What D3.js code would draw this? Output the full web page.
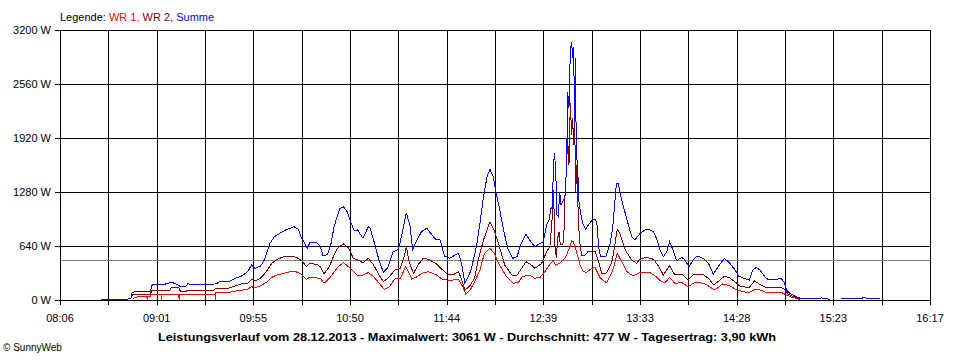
<!DOCTYPE html>
<html><head><meta charset="utf-8">
<script src="https://cdn.jsdelivr.net/npm/d3@7"></script>
<style>
body{margin:0;background:#fff;}
svg{display:block;font-family:"Liberation Sans",Arial,sans-serif;}
</style></head><body>
<svg id="chart" width="960" height="360"></svg>
<script>
// ---------- data ----------
const yTicks = [0, 640, 1280, 1920, 2560, 3200];
const xTickLabels = ["08:06","09:01","09:55","10:50","11:44","12:39","13:33","14:28","15:23","16:17"];
const timeStart = "08:06", timeEnd = "16:17";
const average = 477;
const legendPrefix = "Legende: ";
const legendNames = ["WR 1", "WR 2", "Summe"];
const footerText = "Leistungsverlauf vom 28.12.2013 - Maximalwert: 3061 W - Durchschnitt: 477 W - Tagesertrag: 3,90 kWh";
const copyrightText = "\u00a9 SunnyWeb";

const wr1 = [["08:47",20],["08:51",47],["08:55",47],["08:55:15",0],["08:55:30",47],["08:57",47],["08:58",71],["09:03",71],["09:03:15",0],["09:03:30",71],["09:13",71],["09:13:15",0],["09:13:30",71],["09:33:30",71],["09:33:45",0],["09:34",87],["09:41",87],["09:46",110],["09:52",126],["09:54",158],["09:56",145],["09:59",166],["10:03",217],["10:06",276],["10:09",300],["10:12",316],["10:18",344],["10:21:30",316],["10:25",245],["10:27",269],["10:33",257],["10:35",198],["10:38",257],["10:43",395],["10:46",442],["10:50",375],["10:53:30",296],["10:57",296],["11:00",324],["11:03",276],["11:06:30",190],["11:09",126],["11:12",158],["11:15",250],["11:18",250],["11:21",395],["11:22:30",340],["11:24:30",250],["11:27",270],["11:31",324],["11:34",336],["11:38:30",296],["11:42",240],["11:46",235],["11:51",240],["11:53:30",150],["11:55",71],["11:57:30",118],["12:00",217],["12:03",355],["12:05:30",553],["12:08:40",612],["12:11",553],["12:14",415],["12:18",276],["12:21:40",198],["12:24:30",205],["12:27",276],["12:31",296],["12:34",257],["12:37",269],["12:39:40",336],["12:42:30",423],["12:44:25",462],["12:45:45",415],["12:48:10",435],["12:51",494],["12:53:50",632],["12:54:45",700],["12:55:45",691],["12:57:30",573],["12:59:30",415],["13:01:20",336],["13:03",328],["13:06",375],["13:08",383],["13:11",257],["13:14:30",205],["13:18",355],["13:20:30",553],["13:22",494],["13:26",336],["13:29:30",284],["13:33",324],["13:39",324],["13:42",284],["13:44:40",229],["13:47:30",205],["13:50",269],["13:53",198],["13:57",205],["14:00:30",158],["14:04",205],["14:09",200],["14:12",166],["14:15:30",118],["14:20",190],["14:24",170],["14:28",118],["14:31:30",99],["14:35",87],["14:38",126],["14:41",120],["14:45",87],["14:53",90],["14:56",59],["14:59",32],["15:02",16],["15:03:30",5]];

const wr2 = [["08:46:30",40],["08:47",71],["08:57",71],["08:58",118],["09:08",118],["09:09",150],["09:13",150],["09:14",99],["09:17",99],["09:18",118],["09:33",118],["09:34",138],["09:41",138],["09:45",166],["09:48",190],["09:52",198],["09:54",245],["09:56",225],["09:59",257],["10:01",300],["10:03",355],["10:05:30",435],["10:08",474],["10:12",513],["10:15",521],["10:17",521],["10:20:30",494],["10:23",454],["10:25",395],["10:27",435],["10:31",420],["10:33",395],["10:35",308],["10:38",395],["10:40",500],["10:42",593],["10:44",640],["10:46",664],["10:49",612],["10:51:30",494],["10:54",474],["10:57",442],["11:00",494],["11:03",415],["11:06",296],["11:08:30",217],["11:11",257],["11:15",355],["11:18",375],["11:20",494],["11:21:30",632],["11:23",454],["11:25:30",315],["11:28",415],["11:31",494],["11:34",482],["11:38",435],["11:41",375],["11:45",296],["11:48",300],["11:51",336],["11:53",217],["11:54:30",118],["11:57",160],["12:00",257],["12:02",474],["12:05",711],["12:08:40",928],["12:11",830],["12:14",632],["12:17",415],["12:21",296],["12:24",296],["12:26:30",375],["12:29",454],["12:32",415],["12:34",375],["12:37:50",435],["12:40:40",573],["12:42:30",632],["12:43:50",988],["12:44:25",1300],["12:45:00",968],["12:45:20",652],["12:46:07",494],["12:46:52",731],["12:47:36",810],["12:48:22",652],["12:49:30",652],["12:50:15",691],["12:51:00",1244],["12:51:45",1521],["12:52:30",1916],["12:53:15",1600],["12:54:00",2331],["12:54:45",1956],["12:55:19",2153],["12:55:53",1837],["12:56:27",2153],["12:57:01",1284],["12:57:46",1600],["12:58:31",968],["12:59:17",691],["13:00:25",533],["13:02:17",533],["13:04",573],["13:08",573],["13:10",454],["13:11:40",316],["13:14:30",320],["13:17:30",454],["13:19",632],["13:20:30",838],["13:22",790],["13:25",593],["13:28:40",474],["13:31:30",435],["13:33",482],["13:35",494],["13:37",506],["13:41",482],["13:44",395],["13:46:30",296],["13:50",407],["13:53",296],["13:57",308],["14:00:30",237],["14:04",308],["14:09",300],["14:12",257],["14:15",178],["14:18:30",237],["14:21",284],["14:24",260],["14:28",198],["14:30",158],["14:35",150],["14:38",225],["14:41",185],["14:45",145],["14:53",145],["14:55",126],["14:57",71],["15:00",40],["15:02:40",16],["15:03:30",5]];

const summe = [["08:29",10],["08:46",12],["08:46:30",79],["08:48",99],["08:57",99],["08:58",178],["09:05",186],["09:09",210],["09:12",186],["09:14",158],["09:17",158],["09:18",190],["09:26",186],["09:34",190],["09:36",217],["09:41",217],["09:45",257],["09:48:30",284],["09:52",336],["09:54",415],["09:56",375],["09:59",400],["10:01",460],["10:03",580],["10:04:30",672],["10:07",750],["10:10",790],["10:14",838],["10:16",850],["10:18",869],["10:20:30",838],["10:22",750],["10:24",672],["10:25:30",612],["10:27",680],["10:31",680],["10:33",632],["10:34:30",521],["10:37",540],["10:39",672],["10:40:30",850],["10:42",960],["10:44",1086],["10:46",1106],["10:48",1047],["10:50",928],["10:52",822],["10:54",830],["10:57",731],["11:00",869],["11:01",850],["11:03",711],["11:06",474],["11:08:30",330],["11:11",380],["11:14",573],["11:17",600],["11:19",780],["11:21:30",1035],["11:23:30",880],["11:25",600],["11:27",691],["11:30",810],["11:33",850],["11:36",770],["11:38",719],["11:40:30",711],["11:43",521],["11:46",494],["11:49",533],["11:51",553],["11:53",395],["11:54:30",198],["11:56",257],["11:58",355],["12:01",632],["12:03",909],["12:05",1224],["12:07",1461],["12:08:40",1549],["12:10:30",1461],["12:12",1284],["12:14",1086],["12:16:30",810],["12:19",593],["12:21:30",494],["12:24",513],["12:25:30",632],["12:29",782],["12:31",711],["12:34",632],["12:37",672],["12:38:45",691],["12:40:40",889],["12:42",948],["12:43:06",1086],["12:43:51",1106],["12:44:25",1521],["12:45:00",1746],["12:45:44",1561],["12:46:29",1007],["12:47:14",988],["12:48:00",1284],["12:48:45",1126],["12:50:04",1185],["12:51:00",1224],["12:51:56",1600],["12:52:30",2469],["12:53:15",2272],["12:54:00",2943],["12:54:45",3061],["12:55:19",2864],["12:55:53",3002],["12:56:27",2074],["12:56:50",2864],["12:57:24",1758],["12:58:09",1561],["12:58:54",1165],["13:00:00",1007],["13:01:20",889],["13:02:40",841],["13:04:10",889],["13:06:25",948],["13:08",960],["13:09",909],["13:10",632],["13:11",513],["13:14",513],["13:16:30",672],["13:18",869],["13:20",1383],["13:21",1383],["13:23",1185],["13:26",948],["13:28:40",750],["13:30:30",711],["13:33",780],["13:36",830],["13:38",838],["13:41",810],["13:43",711],["13:44:40",593],["13:46:30",513],["13:48:30",573],["13:50",691],["13:52",593],["13:54",466],["13:57",506],["13:58:40",474],["14:01",395],["14:03:30",482],["14:05:40",521],["14:09",494],["14:12",435],["14:14:40",308],["14:17:30",395],["14:21",494],["14:24",435],["14:27",355],["14:29",284],["14:31:40",257],["14:35",237],["14:37",355],["14:39",387],["14:41",355],["14:44",269],["14:46",237],["14:50:30",245],["14:53",257],["14:55",198],["14:56",118],["14:58",75],["15:01",47],["15:03:40",20],["15:07",16],["15:16",24],["15:20:30",8],["15:24",null],["15:27",12],["15:38",12],["15:39",24],["15:41",24],["15:42",12],["15:49",12]];

const seriesColors = ["#ff0000", "#800000", "#0000ff"];

// ---------- chart ----------
const parseT = s => { const p = s.split(":").map(Number); return new Date(2013, 11, 28, p[0], p[1], p[2] || 0); };
const svg = d3.select("#chart");
svg.append("rect").attr("width", 960).attr("height", 360).attr("fill", "#fff");

const x = d3.scaleTime().domain([parseT(timeStart), parseT(timeEnd)]).range([60, 930]);
const y = d3.scaleLinear().domain([0, 3200]).range([300, 30]);
const px = v => Math.round(v) + 0.5;

// vertical grid: 18 equal intervals, every second one labelled
const t0 = parseT(timeStart).getTime(), t1 = parseT(timeEnd).getTime();
const gridTimes = d3.range(19).map(i => new Date(t0 + (t1 - t0) * i / 18));
const grid = svg.append("g").attr("stroke", "#000").attr("stroke-width", 1).attr("shape-rendering", "crispEdges");
grid.selectAll("line.v").data(gridTimes).join("line")
  .attr("x1", d => px(x(d))).attr("x2", d => px(x(d)))
  .attr("y1", y(3200)).attr("y2", y(0) + 5);
grid.selectAll("line.h").data(yTicks).join("line").attr("class","h")
  .attr("x1", 55).attr("x2", 931)
  .attr("y1", d => px(y(d))).attr("y2", d => px(y(d)));

// average line
svg.append("line").attr("x1", 61).attr("x2", 930)
  .attr("y1", px(y(average))).attr("y2", px(y(average)))
  .attr("stroke", "#808080").attr("shape-rendering", "crispEdges");

// axis labels
svg.append("g").selectAll("text").data(yTicks).join("text")
  .attr("x", 51).attr("y", d => y(d) + 4)
  .attr("text-anchor", "end").attr("font-size", 11).attr("fill", "#000")
  .text(d => d + " W");
svg.append("g").selectAll("text").data(xTickLabels).join("text")
  .attr("x", (d, i) => x(gridTimes[i * 2])).attr("y", 322)
  .attr("text-anchor", "middle").attr("font-size", 11).attr("fill", "#000")
  .text(d => d);

// series lines
const line = d3.line().defined(d => d[1] != null)
  .x(d => x(parseT(d[0]))).y(d => y(d[1]));
[wr1, wr2, summe].forEach((s, i) => {
  svg.append("path").datum(s).attr("d", line)
    .attr("fill", "none").attr("stroke", seriesColors[i]).attr("stroke-width", 1)
    .attr("shape-rendering", "crispEdges");
});

// legend
const lg = svg.append("text").attr("x", 60).attr("y", 21).attr("font-size", 11);
lg.append("tspan").attr("fill", "#000").text(legendPrefix);
legendNames.forEach((n, i) => {
  lg.append("tspan").attr("fill", seriesColors[i]).text(n + (i < legendNames.length - 1 ? ", " : ""));
});

// footer
svg.append("text").attr("x", 467).attr("y", 341).attr("text-anchor", "middle")
  .attr("font-size", 11).attr("font-weight", "bold").attr("fill", "#000")
  .attr("textLength", 618).attr("lengthAdjust", "spacingAndGlyphs")
  .text(footerText);
svg.append("text").attr("x", 3).attr("y", 351).attr("font-size", 10).attr("fill", "#000")
  .text(copyrightText);
</script>
</body></html>
